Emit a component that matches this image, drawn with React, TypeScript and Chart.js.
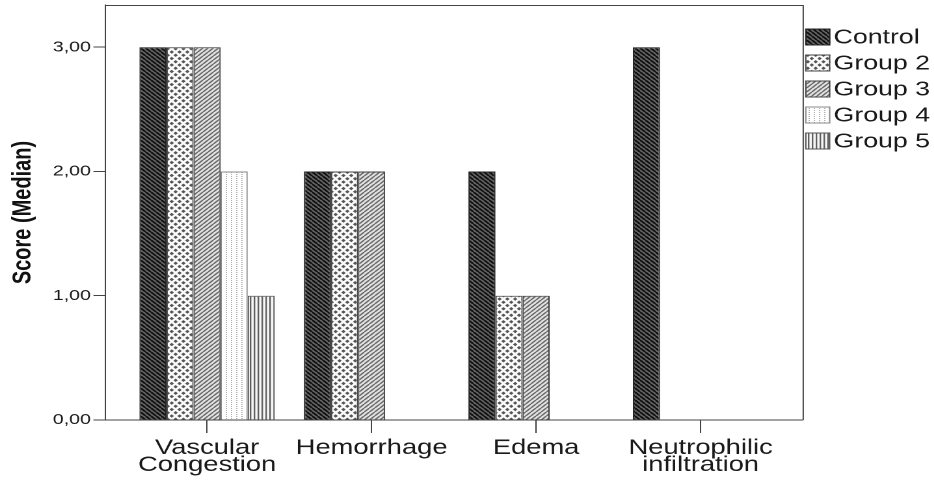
import React, { useEffect, useRef } from 'react';
import { Chart, registerables } from 'chart.js';

Chart.register(...registerables);

// ---- data ----
const categories: (string | string[])[] = [
  ['Vascular', 'Congestion'],
  'Hemorrhage',
  'Edema',
  ['Neutrophilic', 'infiltration'],
];
const seriesNames = ['Control', 'Group 2', 'Group 3', 'Group 4', 'Group 5'];
const controlValues = [3, 2, 2, 3];
const group2Values = [3, 2, 1, 0];
const group3Values = [3, 2, 1, 0];
const group4Values = [2, 0, 0, 0];
const group5Values = [1, 0, 0, 0];
const yTickValues = [0, 1, 2, 3];
const yTickLabels = ['0,00', '1,00', '2,00', '3,00'];
const yTitle = 'Score (Median)';

const seriesValues = [controlValues, group2Values, group3Values, group4Values, group5Values];

// the reference is horizontally stretched; reproduce by drawing narrower and scaling
const S = 1.3;
const W = 934 / S;
const H = 482;
const FONT = '"Liberation Sans", Arial, Helvetica, sans-serif';

type Kind = 'control' | 'g2' | 'g3' | 'g4' | 'g5';
const kinds: Kind[] = ['control', 'g2', 'g3', 'g4', 'g5'];
const borderColors = ['#222', '#444', '#444', '#8a8a8a', '#555'];

function makePattern(kind: Kind): CanvasPattern | string {
  const sizes: Record<Kind, [number, number]> = {
    control: [4, 4],
    g2: [6, 6.5],
    g3: [4, 4],
    g4: [4, 4],
    g5: [3, 2],
  };
  const [tw, th] = sizes[kind];
  const c = document.createElement('canvas');
  c.width = Math.round(tw * 2);
  c.height = Math.round(th * 2);
  const x = c.getContext('2d');
  if (!x) return '#888';
  x.scale(2, 2);
  if (kind === 'control') {
    x.fillStyle = '#666';
    x.fillRect(0, 0, tw, th);
    x.strokeStyle = '#111';
    x.lineWidth = 1.6;
    for (let k = -1; k <= 1; k++) {
      x.beginPath();
      x.moveTo(k * tw, 0);
      x.lineTo(k * tw + tw, th);
      x.stroke();
    }
  } else if (kind === 'g2') {
    x.fillStyle = '#fbfbfb';
    x.fillRect(0, 0, tw, th);
    x.fillStyle = '#555';
    const hx = 1.7;
    const hy = 1.8;
    const dots = [
      [0, 0],
      [tw, 0],
      [0, th],
      [tw, th],
      [tw / 2, th / 2],
    ];
    for (const [cx, cy] of dots) {
      x.beginPath();
      x.moveTo(cx, cy - hy);
      x.lineTo(cx + hx, cy);
      x.lineTo(cx, cy + hy);
      x.lineTo(cx - hx, cy);
      x.closePath();
      x.fill();
    }
  } else if (kind === 'g3') {
    x.fillStyle = '#e2e2e2';
    x.fillRect(0, 0, tw, th);
    x.strokeStyle = '#6a6a6a';
    x.lineWidth = 1.3;
    for (let k = -1; k <= 1; k++) {
      x.beginPath();
      x.moveTo(k * tw, th);
      x.lineTo(k * tw + tw, 0);
      x.stroke();
    }
  } else if (kind === 'g4') {
    x.fillStyle = '#ffffff';
    x.fillRect(0, 0, tw, th);
    x.fillStyle = '#b0b0b0';
    x.fillRect(1.5, 0, 1, 1);
    x.fillRect(1.5, 2, 1, 1);
  } else {
    x.fillStyle = '#f6f6f6';
    x.fillRect(0, 0, tw, th);
    x.fillStyle = '#5e5e5e';
    x.fillRect(0, 0, 1.2, th);
  }
  const p = x.createPattern(c, 'repeat');
  if (!p) return '#888';
  try {
    p.setTransform(new DOMMatrix([0.5, 0, 0, 0.5, 0, 0]));
  } catch (e) {
    /* ignore */
  }
  return p;
}

export default function App() {
  const ref = useRef<HTMLCanvasElement | null>(null);

  useEffect(() => {
    if (!ref.current) return;
    const patterns = kinds.map((k) => makePattern(k));

    const framePlugin = {
      id: 'frame',
      afterDraw(chart: any) {
        const { ctx, chartArea } = chart;
        ctx.save();
        ctx.strokeStyle = '#444';
        ctx.lineWidth = 1;
        ctx.beginPath();
        ctx.moveTo(chartArea.left, chartArea.top + 0.5);
        ctx.lineTo(chartArea.right + 0.5, chartArea.top + 0.5);
        ctx.lineTo(chartArea.right + 0.5, chartArea.bottom);
        ctx.stroke();
        ctx.restore();
      },
    };

    const legendPlugin = {
      id: 'customLegend',
      afterDraw(chart: any) {
        const { ctx, chartArea } = chart;
        ctx.save();
        const boxX = chartArea.right + 2;
        const boxW = 19.3;
        const boxH = 17;
        const textX = 640.8;
        chart.data.datasets.forEach((ds: any, i: number) => {
          const cy = 37 + 26 * i;
          ctx.fillStyle = ds.backgroundColor;
          ctx.fillRect(boxX, cy - boxH / 2, boxW, boxH);
          ctx.strokeStyle = ds.borderColor;
          ctx.lineWidth = 1;
          ctx.strokeRect(boxX + 0.5, cy - boxH / 2 + 0.5, boxW - 1, boxH - 1);
          ctx.fillStyle = '#1a1a1a';
          ctx.font = `20.5px ${FONT}`;
          ctx.textBaseline = 'middle';
          ctx.textAlign = 'left';
          ctx.fillText(ds.label, textX, cy + 1);
        });
        ctx.restore();
      },
    };

    const chart = new Chart(ref.current, {
      type: 'bar',
      data: {
        datasets: seriesNames.map((name, k) => ({
          label: name,
          data: seriesValues[k].map((v, i) => ({ x: i, y: v })),
          backgroundColor: patterns[k] as any,
          borderColor: borderColors[k],
          borderWidth: 1,
          barPercentage: 1,
          categoryPercentage: 0.823,
        })),
      },
      options: {
        animation: false,
        responsive: true,
        maintainAspectRatio: false,
        devicePixelRatio: 2,
        layout: { padding: { top: 5, right: W - 616.9, left: 0, bottom: 0 } },
        plugins: {
          legend: { display: false },
          tooltip: { enabled: false },
        },
        scales: {
          x: {
            type: 'linear',
            min: -0.62,
            max: 3.62,
            offset: false,
            afterBuildTicks: (s: any) => {
              s.ticks = categories.map((_, i) => ({ value: i }));
            },
            afterFit: (s: any) => {
              s.height = 62;
              s.paddingLeft = 0;
              s.paddingRight = 0;
            },
            ticks: {
              autoSkip: false,
              maxRotation: 0,
              minRotation: 0,
              padding: 7,
              color: '#1a1a1a',
              font: { family: FONT, size: 21, lineHeight: 0.8 },
              callback: (v: any) => categories[Math.round(Number(v))] as any,
            },
            grid: {
              display: true,
              drawOnChartArea: false,
              drawTicks: true,
              tickLength: 13,
              color: '#444',
              offset: false,
            },
            border: { display: true, color: '#444', width: 1 },
          } as any,
          y: {
            min: 0,
            max: 3.34,
            afterBuildTicks: (s: any) => {
              s.ticks = yTickValues.map((v) => ({ value: v }));
            },
            afterFit: (s: any) => {
              s.width = 80.8;
              s.paddingTop = 0;
              s.paddingBottom = 0;
            },
            ticks: {
              padding: 2,
              color: '#1a1a1a',
              font: { family: FONT, size: 15 },
              callback: (_v: any, i: number) => yTickLabels[i],
            },
            grid: {
              display: true,
              drawOnChartArea: false,
              drawTicks: true,
              tickLength: 9,
              color: '#444',
            },
            border: { display: true, color: '#444', width: 1 },
            title: {
              display: true,
              text: yTitle,
              color: '#111',
              font: { family: FONT, size: 20, weight: 'bold', lineHeight: 1.2 },
              padding: { top: 6, bottom: 0 },
            },
          } as any,
        },
      },
      plugins: [framePlugin, legendPlugin],
    });
    return () => chart.destroy();
  }, []);

  return (
    <div
      style={{
        position: 'fixed',
        left: 0,
        top: 0,
        width: 934,
        height: H,
        overflow: 'hidden',
        background: '#fff',
      }}
    >
      <div
        style={{
          width: W,
          height: H,
          transform: `scaleX(${S})`,
          transformOrigin: '0 0',
        }}
      >
        <canvas ref={ref} />
      </div>
    </div>
  );
}
